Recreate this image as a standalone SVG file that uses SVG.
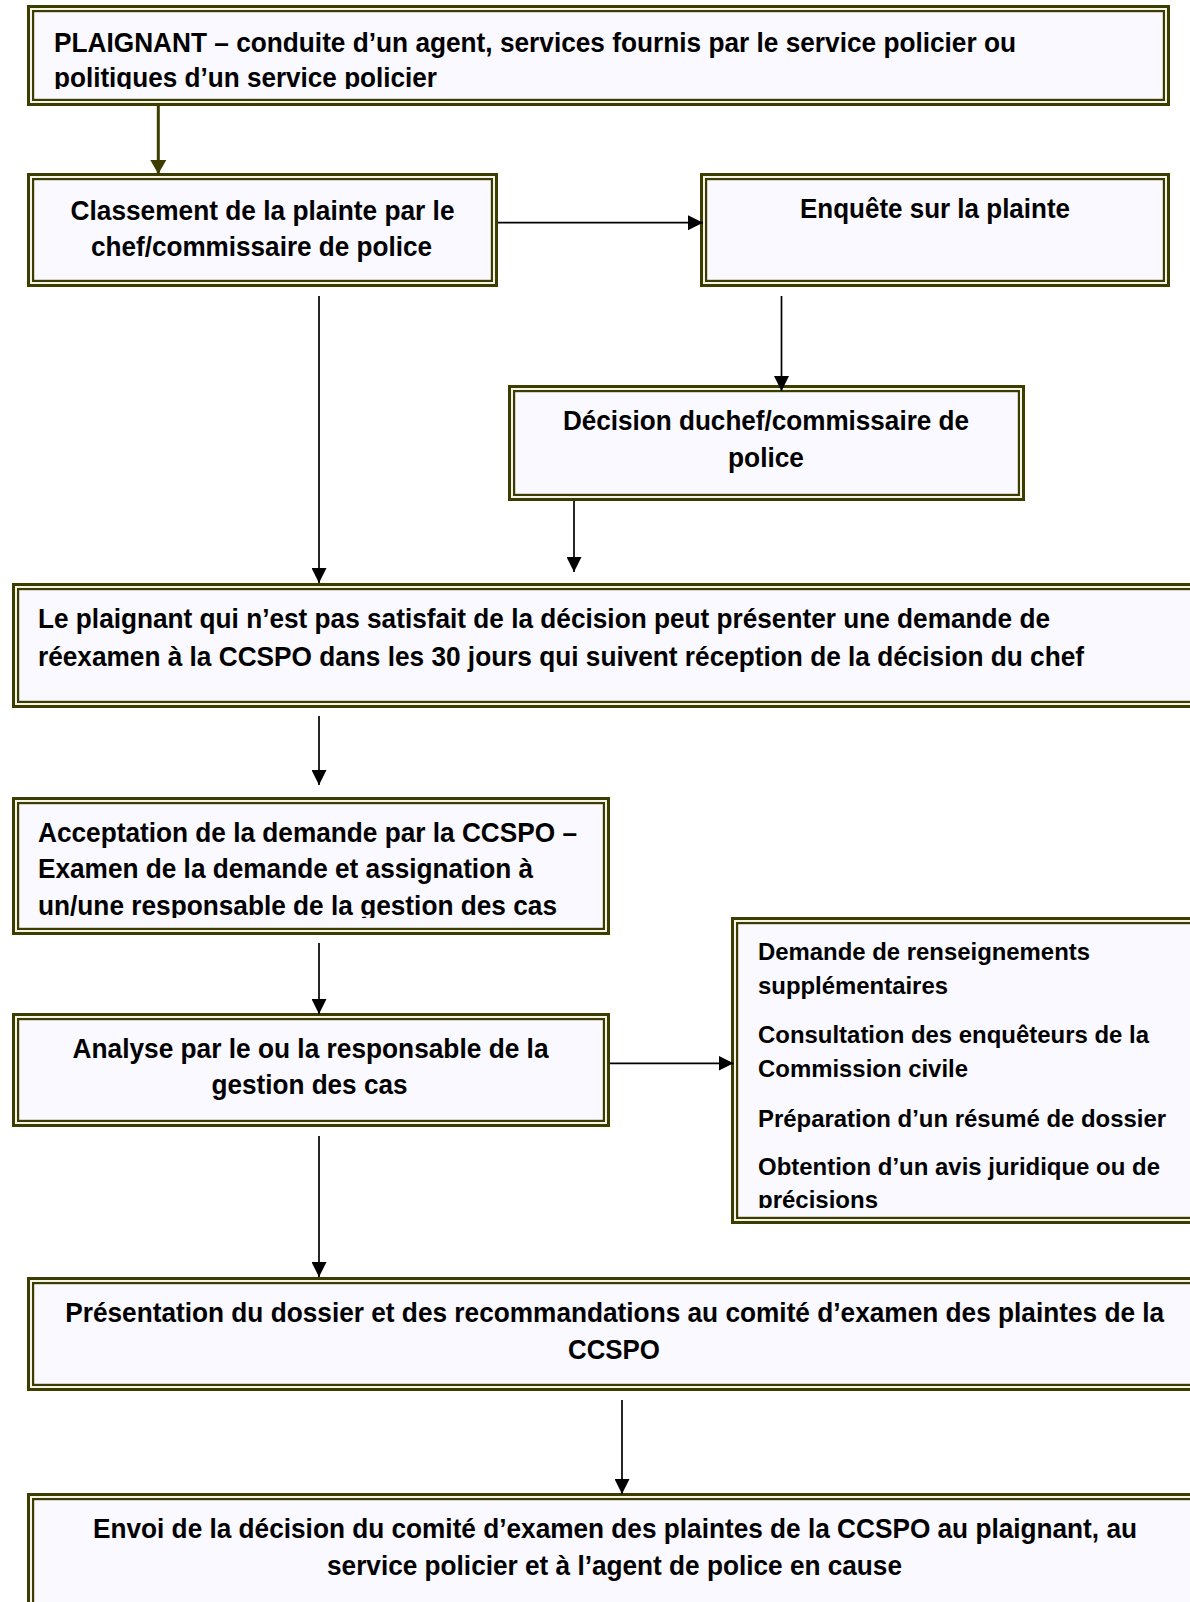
<svg xmlns="http://www.w3.org/2000/svg" width="1190" height="1602" viewBox="0 0 1190 1602">
<style>
.o{fill:#f4f4ea;stroke:#3d3d00;stroke-width:3}
.i{fill:#f9f9ff;stroke:#3d3d00;stroke-width:2.2}
text{font-family:"Liberation Sans Narrow","Liberation Sans",Arial,sans-serif;font-weight:bold;font-size:28px;fill:#000}
.s{font-size:24px}
.c{text-anchor:middle}
.ln{stroke:#000;stroke-width:1.7;fill:none}
.lo{stroke:#3d3d00;stroke-width:3;fill:none}
</style>
<defs>
<marker id="ah" markerUnits="userSpaceOnUse" markerWidth="15" markerHeight="15" refX="15" refY="7.5" orient="auto"><path d="M0,0L15,7.5L0,15z" fill="#000"/></marker>
<marker id="aho" markerUnits="userSpaceOnUse" markerWidth="14" markerHeight="16" refX="14" refY="8" orient="auto"><path d="M0,0L14,8L0,16z" fill="#3d3d00"/></marker>
<clipPath id="c1"><rect x="33" y="11" width="1131" height="78"/></clipPath>
<clipPath id="c6"><rect x="18" y="803" width="586" height="115"/></clipPath>
<clipPath id="c8"><rect x="737" y="923" width="460" height="285"/></clipPath>
</defs>
<g id="n1">
<rect class="o" x="28.5" y="6.5" width="1140" height="98"/>
<rect class="i" x="33.1" y="11.1" width="1130.8" height="88.8"/>
<g clip-path="url(#c1)">
<text x="54" y="52" textLength="962" lengthAdjust="spacingAndGlyphs">PLAIGNANT – conduite d’un agent, services fournis par le service policier ou</text>
<text x="54" y="87" textLength="383" lengthAdjust="spacingAndGlyphs">politiques d’un service policier</text>
</g>
</g>
<g id="n2">
<rect class="o" x="28.5" y="174.5" width="468" height="111"/>
<rect class="i" x="33.1" y="179.1" width="458.8" height="101.8"/>
<text class="c" x="262.5" y="220" textLength="384" lengthAdjust="spacingAndGlyphs">Classement de la plainte par le</text>
<text class="c" x="261.5" y="256" textLength="341" lengthAdjust="spacingAndGlyphs">chef/commissaire de police</text>
</g>
<g id="n3">
<rect class="o" x="701.5" y="174.5" width="467" height="111"/>
<rect class="i" x="706.1" y="179.1" width="457.8" height="101.8"/>
<text class="c" x="935" y="218" textLength="270" lengthAdjust="spacingAndGlyphs">Enquête sur la plainte</text>
</g>
<g id="n4">
<rect class="o" x="509.5" y="386.5" width="514" height="113"/>
<rect class="i" x="514.1" y="391.1" width="504.8" height="103.8"/>
<text class="c" x="766" y="430" textLength="406" lengthAdjust="spacingAndGlyphs">Décision duchef/commissaire de</text>
<text class="c" x="766" y="467" textLength="76" lengthAdjust="spacingAndGlyphs">police</text>
</g>
<g id="n5">
<rect class="o" x="13.5" y="584.5" width="1200" height="122"/>
<rect class="i" x="18.1" y="589.1" width="1190" height="112.8"/>
<text x="38" y="628" textLength="1012" lengthAdjust="spacingAndGlyphs">Le plaignant qui n’est pas satisfait de la décision peut présenter une demande de</text>
<text x="38" y="666" textLength="1046" lengthAdjust="spacingAndGlyphs">réexamen à la CCSPO dans les 30 jours qui suivent réception de la décision du chef</text>
</g>
<g id="n6">
<rect class="o" x="13.5" y="798.5" width="595" height="135"/>
<rect class="i" x="18.1" y="803.1" width="585.8" height="125.8"/>
<g clip-path="url(#c6)">
<text x="38" y="842" textLength="539" lengthAdjust="spacingAndGlyphs">Acceptation de la demande par la CCSPO –</text>
<text x="38" y="878" textLength="495" lengthAdjust="spacingAndGlyphs">Examen de la demande et assignation à</text>
<text x="38" y="915" textLength="519" lengthAdjust="spacingAndGlyphs">un/une responsable de la gestion des cas</text>
</g>
</g>
<g id="n7">
<rect class="o" x="13.5" y="1014.5" width="595" height="111"/>
<rect class="i" x="18.1" y="1019.1" width="585.8" height="101.8"/>
<text class="c" x="310.5" y="1058" textLength="476" lengthAdjust="spacingAndGlyphs">Analyse par le ou la responsable de la</text>
<text class="c" x="309.5" y="1094" textLength="196" lengthAdjust="spacingAndGlyphs">gestion des cas</text>
</g>
<g id="n8">
<rect class="o" x="732.5" y="918.5" width="480" height="304"/>
<rect class="i" x="737.1" y="923.1" width="470" height="294.8"/>
<g clip-path="url(#c8)">
<text class="s" x="758" y="960" textLength="332" lengthAdjust="spacingAndGlyphs">Demande de renseignements</text>
<text class="s" x="758" y="994" textLength="190" lengthAdjust="spacingAndGlyphs">supplémentaires</text>
<text class="s" x="758" y="1043" textLength="391" lengthAdjust="spacingAndGlyphs">Consultation des enquêteurs de la</text>
<text class="s" x="758" y="1077" textLength="210" lengthAdjust="spacingAndGlyphs">Commission civile</text>
<text class="s" x="758" y="1127" textLength="408" lengthAdjust="spacingAndGlyphs">Préparation d’un résumé de dossier</text>
<text class="s" x="758" y="1175" textLength="402" lengthAdjust="spacingAndGlyphs">Obtention d’un avis juridique ou de</text>
<text class="s" x="758" y="1208" textLength="120" lengthAdjust="spacingAndGlyphs">précisions</text>
</g>
</g>
<g id="n9">
<rect class="o" x="28.5" y="1278.5" width="1180" height="111"/>
<rect class="i" x="33.1" y="1283.1" width="1170" height="101.8"/>
<text class="c" x="614.7" y="1322" textLength="1099" lengthAdjust="spacingAndGlyphs">Présentation du dossier et des recommandations au comité d’examen des plaintes de la</text>
<text class="c" x="614" y="1359" textLength="92" lengthAdjust="spacingAndGlyphs">CCSPO</text>
</g>
<g id="n10">
<rect class="o" x="28.5" y="1494.5" width="1180" height="140"/>
<rect class="i" x="33.1" y="1499.1" width="1170" height="130"/>
<text class="c" x="615" y="1538" textLength="1044" lengthAdjust="spacingAndGlyphs">Envoi de la décision du comité d’examen des plaintes de la CCSPO au plaignant, au</text>
<text class="c" x="614.5" y="1575" textLength="575" lengthAdjust="spacingAndGlyphs">service policier et à l’agent de police en cause</text>
</g>
<g id="connectors">
<line class="lo" x1="158.3" y1="106" x2="158.3" y2="174" marker-end="url(#aho)"/>
<line class="ln" x1="498" y1="222.7" x2="703" y2="222.7" marker-end="url(#ah)"/>
<line class="ln" x1="781.5" y1="296" x2="781.5" y2="391" marker-end="url(#ah)"/>
<line class="ln" x1="574" y1="501" x2="574" y2="572" marker-end="url(#ah)"/>
<line class="ln" x1="319" y1="296" x2="319" y2="583" marker-end="url(#ah)"/>
<line class="ln" x1="319" y1="716" x2="319" y2="785" marker-end="url(#ah)"/>
<line class="ln" x1="319" y1="943" x2="319" y2="1014" marker-end="url(#ah)"/>
<line class="ln" x1="610" y1="1063.3" x2="733.5" y2="1063.3" marker-end="url(#ah)"/>
<line class="ln" x1="319" y1="1136" x2="319" y2="1277" marker-end="url(#ah)"/>
<line class="ln" x1="622" y1="1400" x2="622" y2="1494" marker-end="url(#ah)"/>
</g>
</svg>
